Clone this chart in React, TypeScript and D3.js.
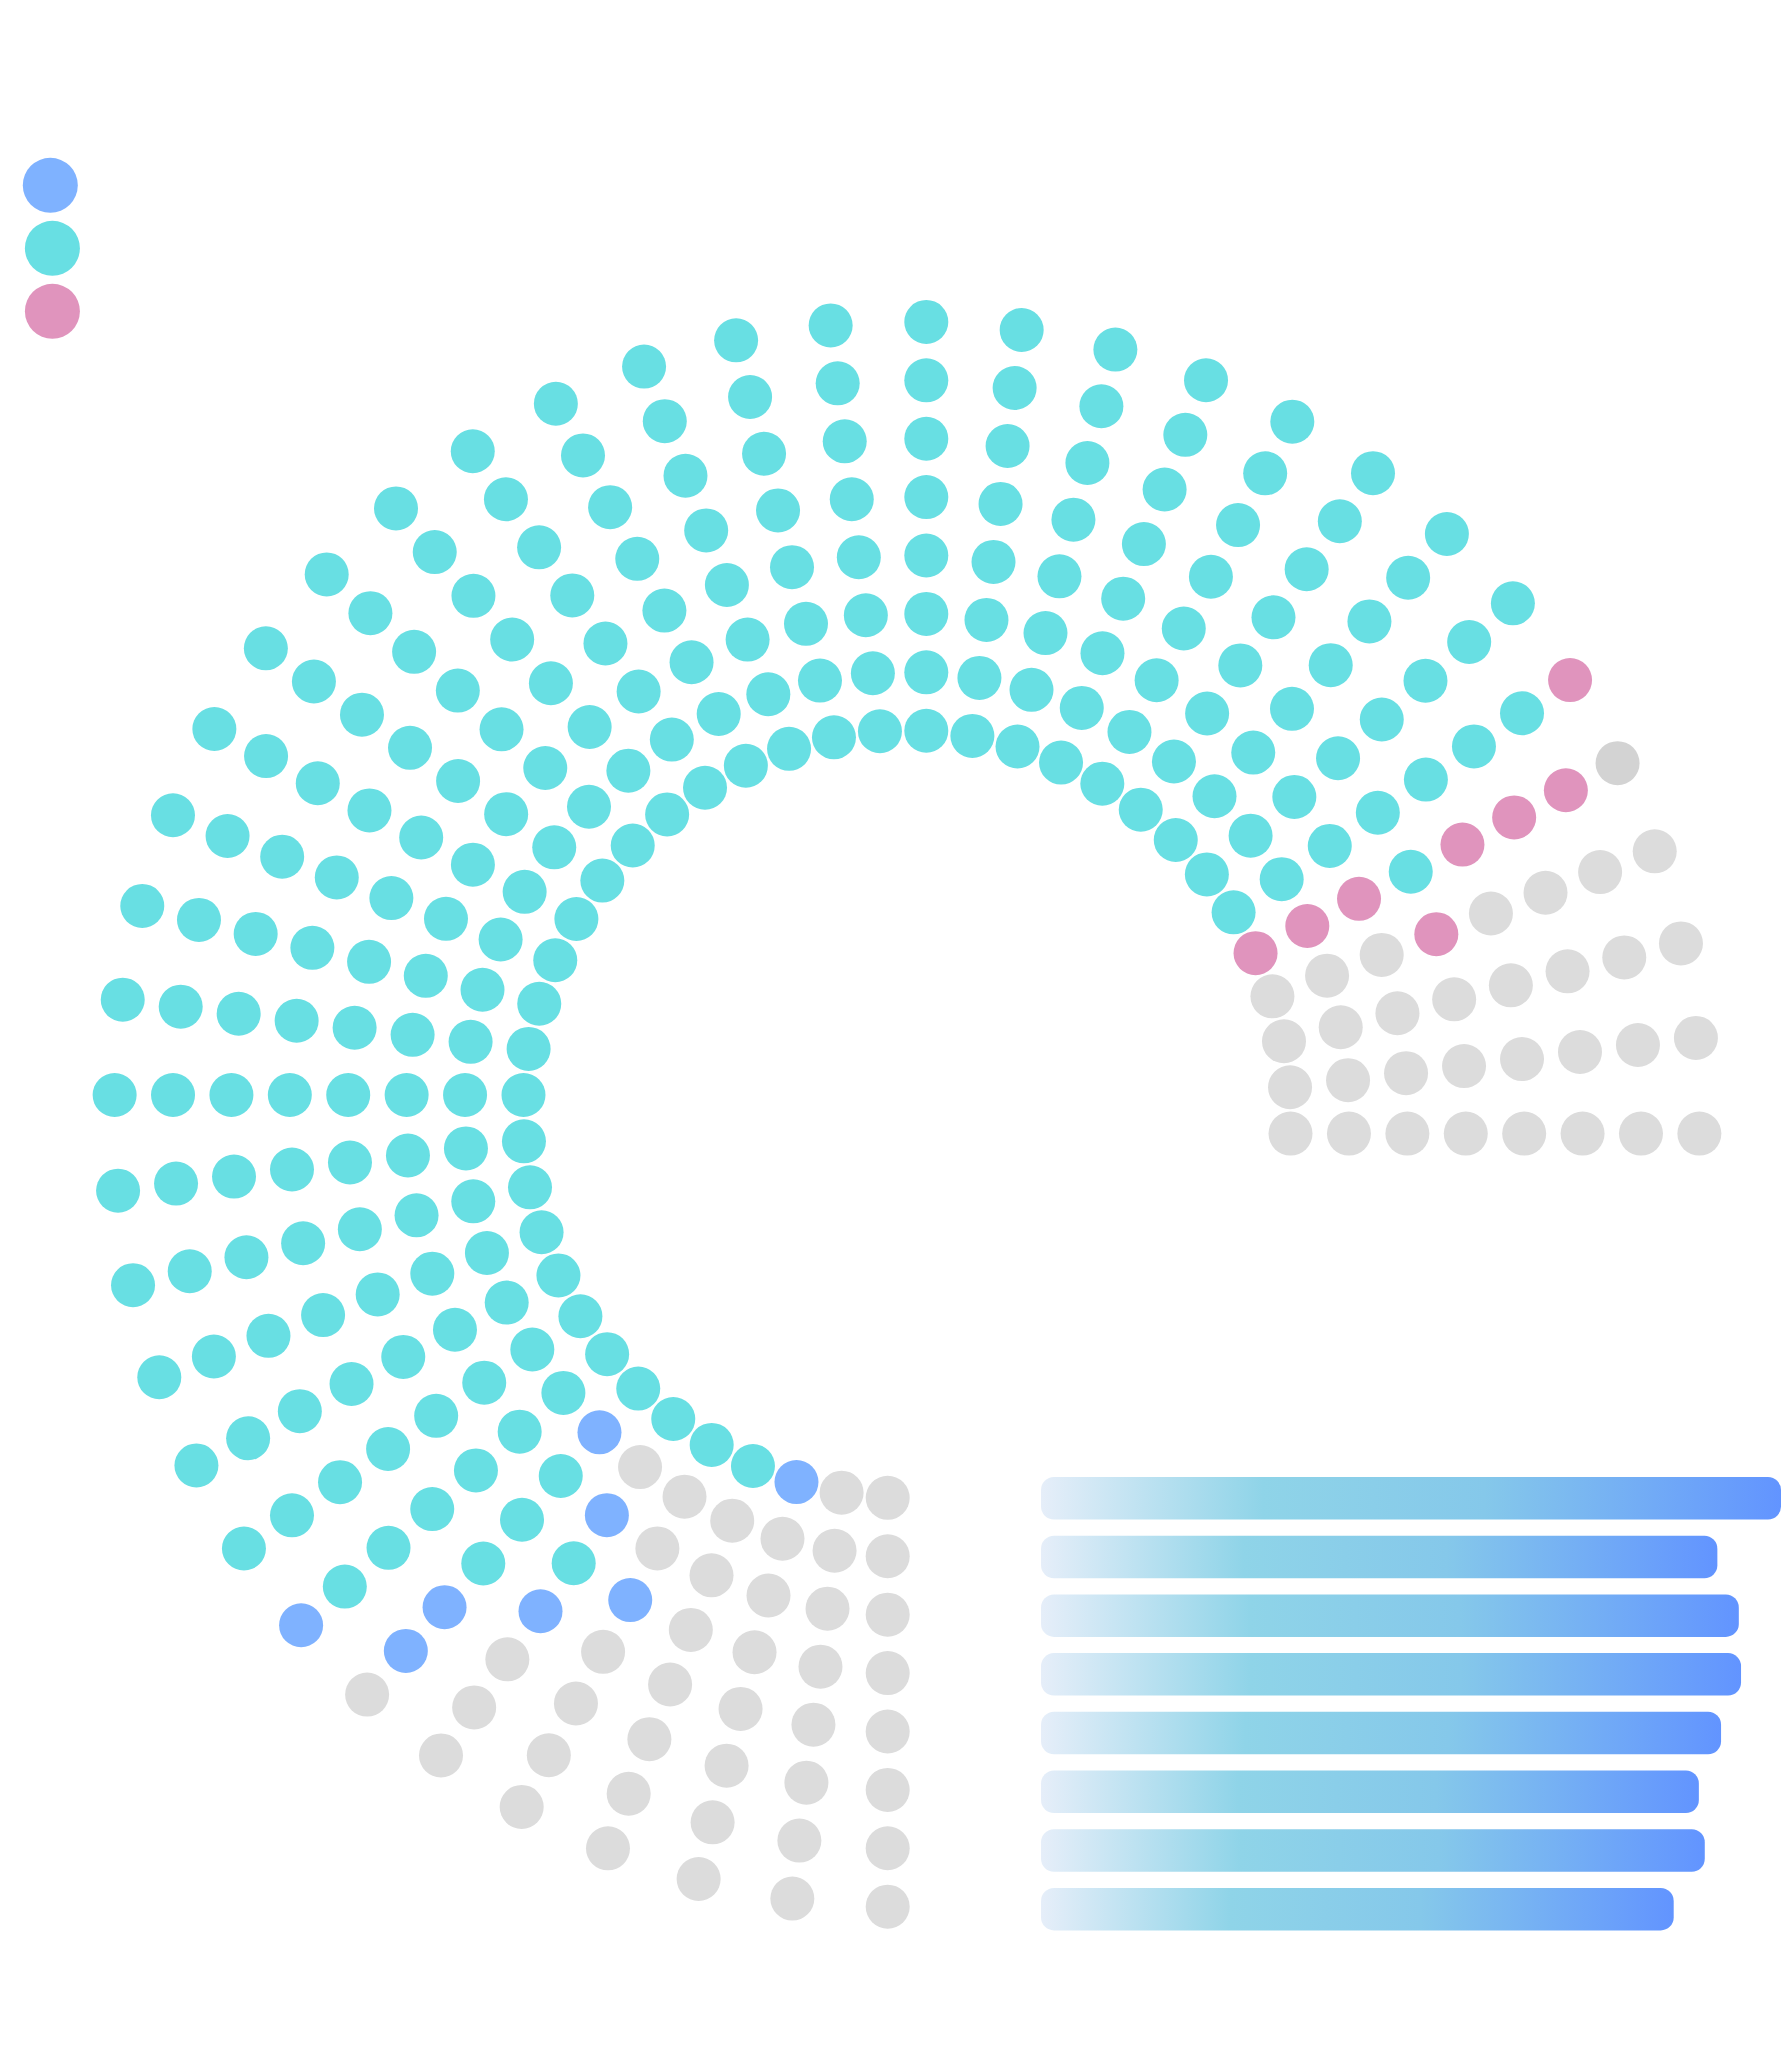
import React, { useEffect } from 'react';
import * as d3 from 'd3';

const WIDTH = 1792;
const HEIGHT = 2072;

// seat rings, innermost first; every ring holds the same number of seats,
// counted from the bottom end of the arc round to the right-hand end
const ringNames = ['R1', 'R2', 'R3', 'R4', 'R5', 'R6', 'R7', 'R8'];
const seatsPerRing = 40;
const emptyBefore = [2, 6, 5, 4, 5, 6, 6, 7];
const blueSeats = [1, 1, 1, 1, 1, 1, 1, 1];
const cyanSeats = [32, 28, 29, 31, 29, 28, 28, 26];
const pinkSeats = [1, 1, 1, 1, 1, 1, 1, 1];
const markedSeats = [0, 0, 0, 0, 0, 0, 0, 1];

// bars beside the arc, one per ring
const barValues = [100, 91.4, 94.3, 94.6, 91.9, 88.9, 89.7, 85.5];

const partyNames = ['blue', 'cyan', 'pink'];
const partyColors = ['#7fb2ff', '#68dfe3', '#e094bd'];
const emptyColor = '#dcdcdc';
const markedColor = '#d3d3d3';

const cx = 907;
const cy = 1114.3;
const dotR = 22;
const edgeOffset = 19.3;

const radius = d3.scaleLinear().domain([0, ringNames.length - 1]).range([384, 792.6]);
const angle = d3.scaleLinear().domain([0, seatsPerRing - 1]).range([0, (3 * Math.PI) / 2]);

const barY = d3.scaleBand().domain(ringNames).range([1468.9, 1938.5]).paddingInner(0.276).paddingOuter(0.138);
const barX = d3.scaleLinear().domain([0, 100]).range([1041, 1781]);

function buildSeats() {
  const seats = [];
  ringNames.forEach((ring, k) => {
    const r = radius(k);
    const delta = Math.asin(edgeOffset / r);
    const colors = [
      ...Array(emptyBefore[k]).fill(emptyColor),
      ...Array(blueSeats[k]).fill(partyColors[0]),
      ...Array(cyanSeats[k]).fill(partyColors[1]),
      ...Array(pinkSeats[k]).fill(partyColors[2]),
      ...Array(markedSeats[k]).fill(markedColor),
    ];
    while (colors.length < seatsPerRing) colors.push(emptyColor);
    colors.forEach((color, i) => {
      const [x, y] = d3.pointRadial(Math.PI + delta + angle(i), r);
      seats.push({ key: `${ring}-${i}`, x: cx + x, y: cy + y, color });
    });
  });
  return seats;
}

export default function App() {
  useEffect(() => {
    document.body.style.margin = '0';
  }, []);

  const seats = buildSeats();

  return (
    <svg width={WIDTH} height={HEIGHT} style={{ display: 'block' }}>
      <defs>
        <linearGradient id="barGrad" x1="0" x2="1" y1="0" y2="0">
          <stop offset="0" stopColor="#e6eef9" />
          <stop offset="0.3" stopColor="#8fd4e8" />
          <stop offset="0.6" stopColor="#85c8ea" />
          <stop offset="1" stopColor="#6294ff" />
        </linearGradient>
      </defs>
      <rect width={WIDTH} height={HEIGHT} fill="#ffffff" />

      {/* legend */}
      <g>
        {partyNames.map((name, i) => (
          <circle key={name} cx={i === 0 ? 50.3 : 52.4} cy={185.3 + i * 63} r={27.5} fill={partyColors[i]} />
        ))}
      </g>

      {/* seats */}
      <g>
        {seats.map((s) => (
          <circle key={s.key} cx={s.x} cy={s.y} r={dotR} fill={s.color} />
        ))}
      </g>

      {/* bars */}
      <g>
        {ringNames.map((ring, k) => (
          <rect
            key={ring}
            x={barX(0)}
            y={barY(ring)}
            width={barX(barValues[k]) - barX(0)}
            height={barY.bandwidth()}
            rx={13}
            fill="url(#barGrad)"
          />
        ))}
      </g>
    </svg>
  );
}
